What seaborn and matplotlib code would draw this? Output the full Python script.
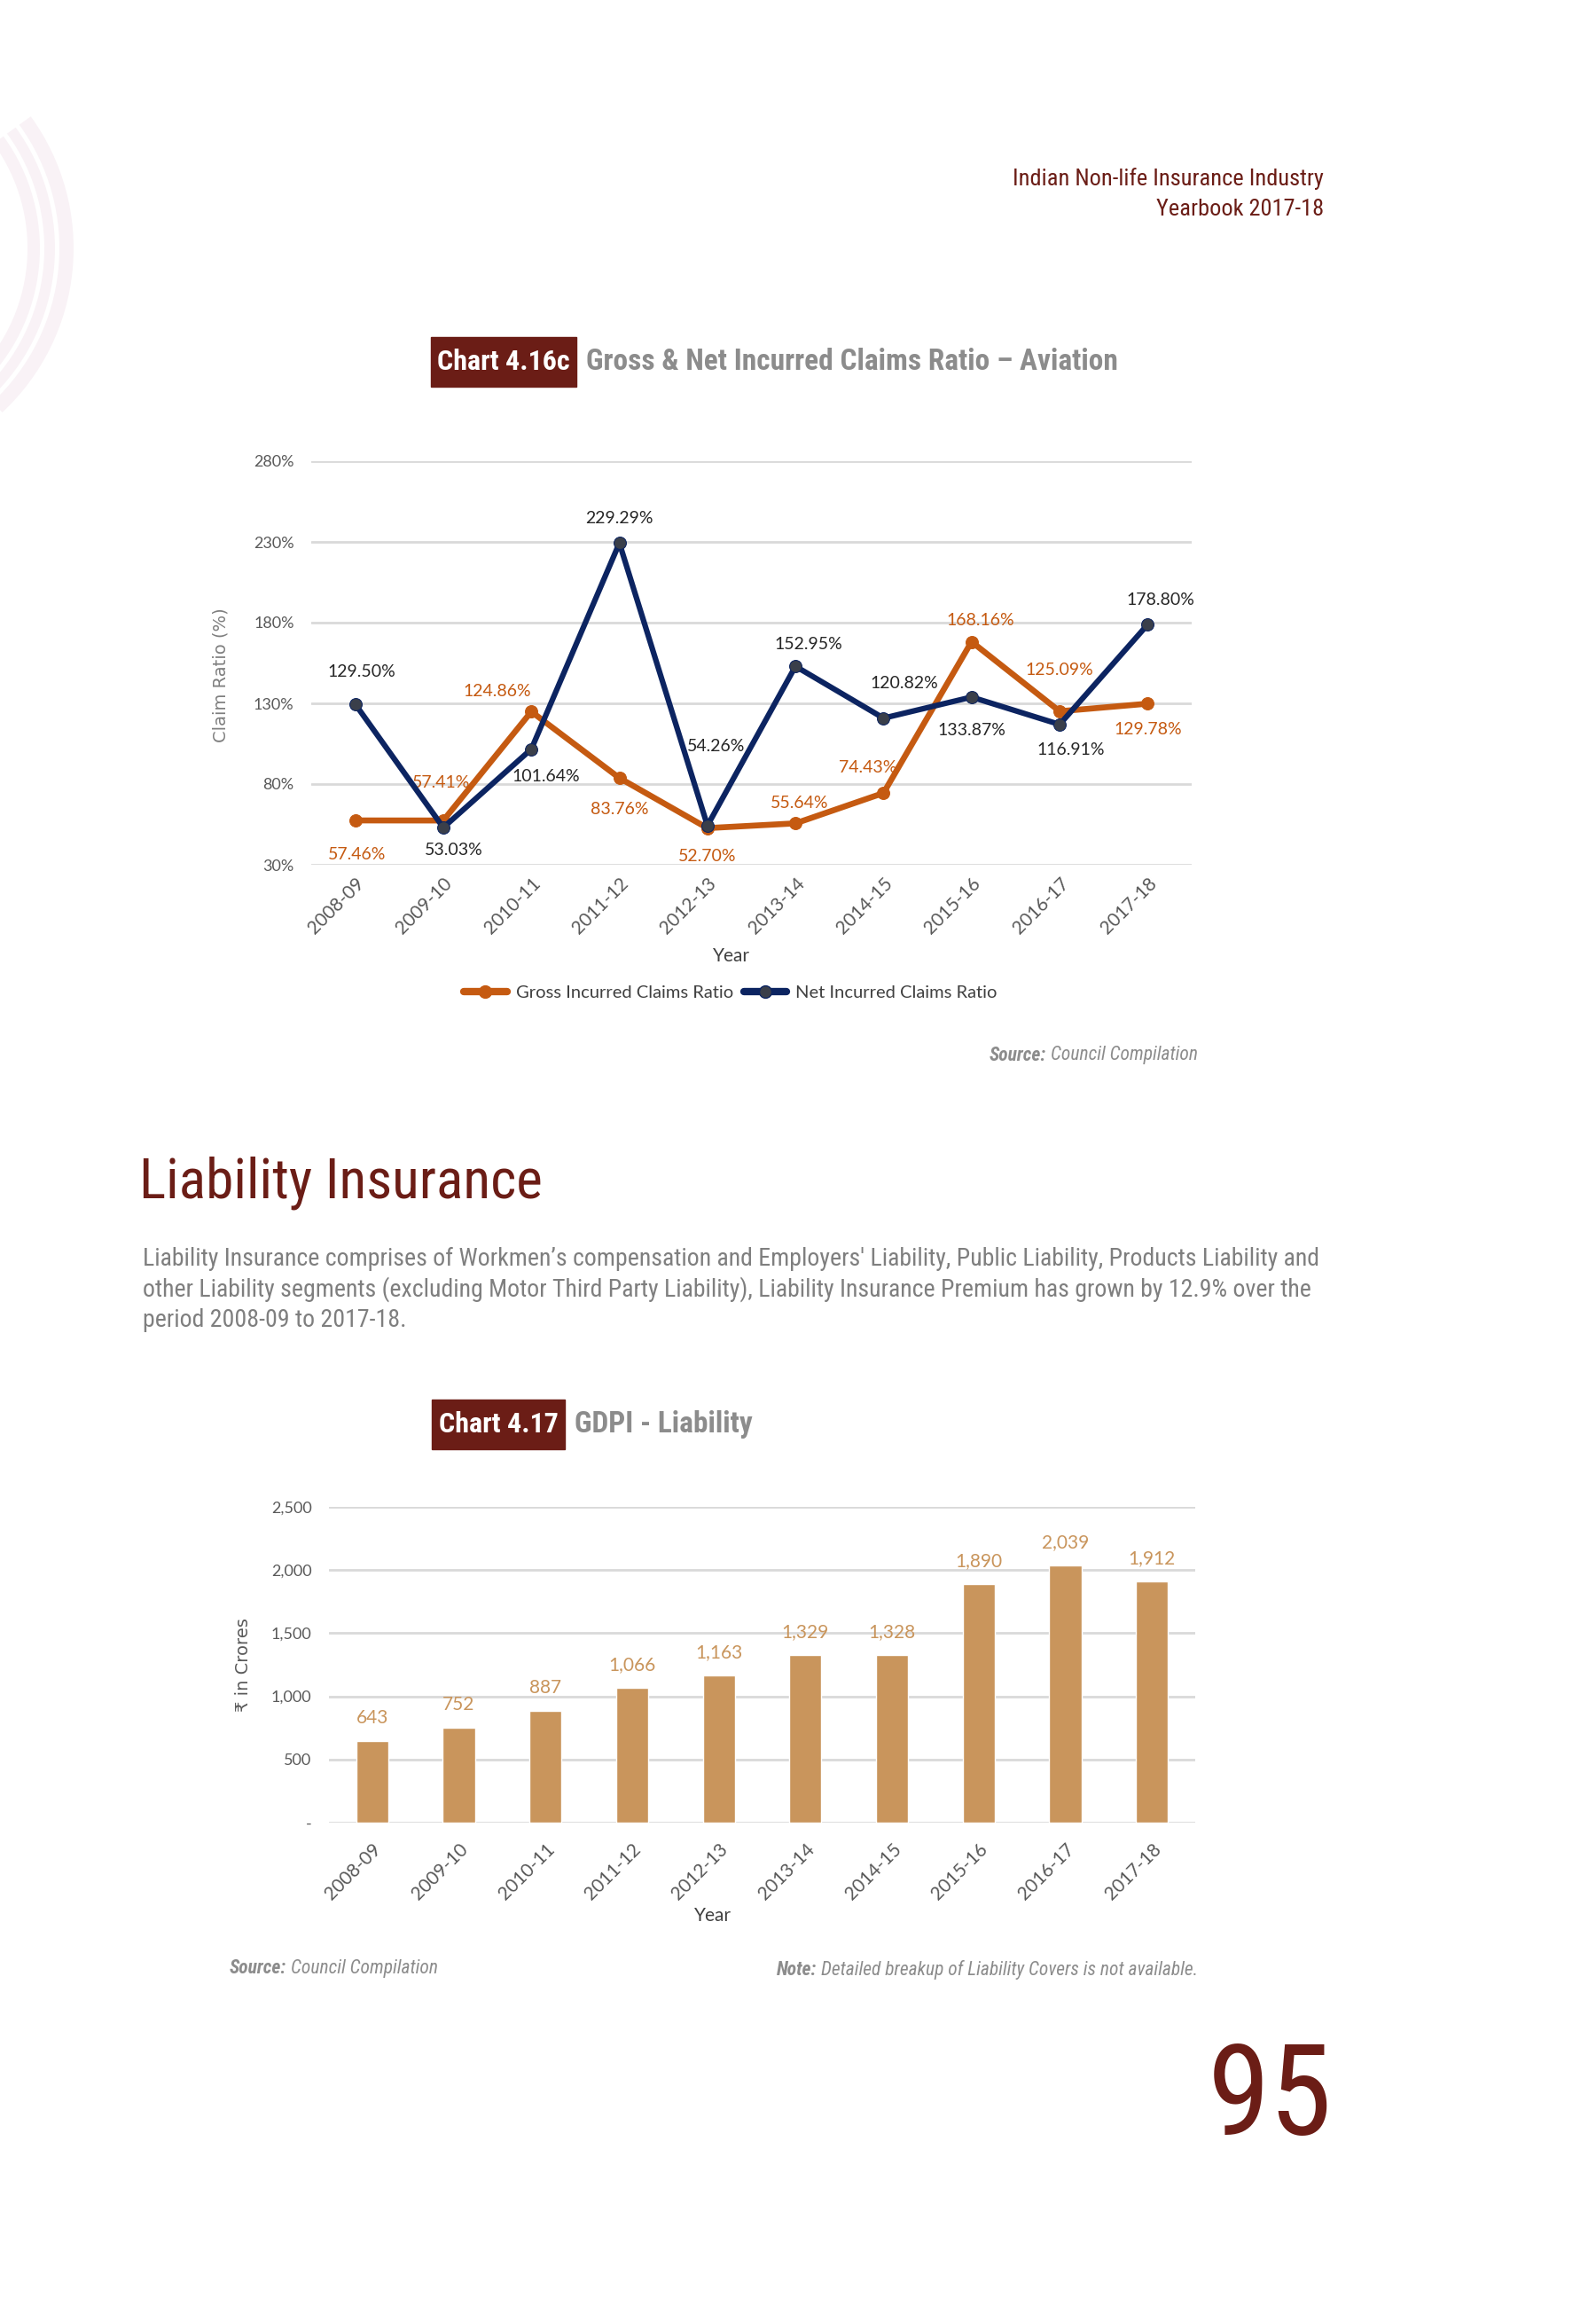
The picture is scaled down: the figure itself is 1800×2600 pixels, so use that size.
import numpy as np
import pandas as pd
import seaborn as sns
import matplotlib.pyplot as plt
from matplotlib import font_manager
from matplotlib.patches import Rectangle, Arc
from matplotlib.ticker import FuncFormatter
from matplotlib.lines import Line2D

# data
years = ['2008-09', '2009-10', '2010-11', '2011-12', '2012-13',
         '2013-14', '2014-15', '2015-16', '2016-17', '2017-18']
gross_ratio = [57.46, 57.41, 124.86, 83.76, 52.70, 55.64, 74.43, 168.16, 125.09, 129.78]
net_ratio = [129.50, 53.03, 101.64, 229.29, 54.26, 152.95, 120.82, 133.87, 116.91, 178.80]
gdpi_liability = [643, 752, 887, 1066, 1163, 1329, 1328, 1890, 2039, 1912]

# label offsets (pixels, +y is down) for the line chart
gross_off = [(2, 38), (-2, -43), (-38, -23), (0, 35), (0, 32),
             (5, -23), (-18, -29), (10, -24), (0, -46), (0, 29)]
net_off = [(7, -36), (12, 25), (17, 31), (0, -28), (10, -89),
           (15, -25), (23, -39), (0, 38), (13, 29), (15, -28)]

sns.set_theme(style='white')

names = {f.name for f in font_manager.fontManager.ttflist}
cond = next((n for n in ['Roboto Condensed', 'Liberation Sans Narrow',
                         'DejaVu Sans Condensed'] if n in names), 'Liberation Sans')
body = 'Lato' if 'Lato' in names else 'Open Sans'
plt.rcParams['font.family'] = [body, 'DejaVu Sans']

RED = '#6b1d16'
ORANGE = '#c55a11'
NAVY = '#0c2461'
BAR = '#c9955c'
GRID = '#d9d9d9'
TICK = '#595959'
NOTE = '#8c8c8c'

W, H = 1800, 2600
fig = plt.figure(figsize=(18, 26), dpi=100)
renderer = fig.canvas.get_renderer()


def fx(px):
    return px / W


def fy(py):
    return 1 - py / H


def note(x, y, bold, rest, align='left', size=15.5):
    # bold italic lead-in followed by italic text
    if align == 'left':
        t = fig.text(fx(x), fy(y), bold, ha='left', va='center', fontsize=size, style='italic',
                     fontweight='bold', color=NOTE, family=cond)
        x1 = t.get_window_extent(renderer).x1
        fig.text(fx(x1 + 5), fy(y), rest, ha='left', va='center', fontsize=size,
                 style='italic', color=NOTE, family=cond)
    else:
        t = fig.text(fx(x), fy(y), rest, ha='right', va='center', fontsize=size,
                     style='italic', color=NOTE, family=cond)
        x0 = t.get_window_extent(renderer).x0
        fig.text(fx(x0 - 5), fy(y), bold, ha='right', va='center', fontsize=size,
                 style='italic', fontweight='bold', color=NOTE, family=cond)


# decorative arcs at the top-left
for r, lw in [(2.45, 11.5), (2.26, 8.6), (2.08, 10)]:
    fig.add_artist(Arc((-1.7, 23.2), 2 * r, 2 * r, theta1=-47, theta2=36,
                       transform=fig.dpi_scale_trans, color='#f9f2f6', lw=lw))

# header
fig.text(fx(1493), fy(202), 'Indian Non-life Insurance Industry', ha='right', va='center',
         fontsize=19, color=RED, family=cond)
fig.text(fx(1493), fy(236), 'Yearbook 2017-18', ha='right', va='center',
         fontsize=19, color=RED, family=cond)


def chart_title(x0, x1, yc, tag, title):
    fig.add_artist(Rectangle((fx(x0), fy(yc + 28)), fx(x1 - x0), 56 / H,
                             transform=fig.transFigure, color=RED, zorder=1))
    fig.text(fx((x0 + x1) / 2), fy(yc), tag, ha='center', va='center', color='white',
             fontsize=23, fontweight='bold', family=cond, zorder=2)
    fig.text(fx(x1 + 11), fy(yc), title, ha='left', va='center', color=NOTE,
             fontsize=24, fontweight='bold', family=cond)


chart_title(486, 650, 408, 'Chart 4.16c', 'Gross & Net Incurred Claims Ratio \u2013 Aviation')

# chart 1: line chart
ax1 = fig.add_axes([fx(351), fy(975), fx(1344 - 351), (975 - 520) / H])
df1 = pd.DataFrame({'Year': years, 'Gross': gross_ratio, 'Net': net_ratio})
sns.lineplot(data=df1, x='Year', y='Gross', ax=ax1, color=ORANGE, lw=4.8, marker='o',
             markersize=10, markerfacecolor=ORANGE, markeredgecolor=ORANGE, sort=False,
             label='Gross Incurred Claims Ratio', zorder=3)
sns.lineplot(data=df1, x='Year', y='Net', ax=ax1, color=NAVY, lw=4.5, marker='o',
             markersize=10, markerfacecolor='#3a3f4a', markeredgecolor=NAVY, sort=False,
             label='Net Incurred Claims Ratio', zorder=4)
ax1.set_xlim(-0.5, 9.5)
ax1.set_ylim(30, 280)
ax1.set_yticks(np.arange(30, 281, 50))
ax1.yaxis.set_major_formatter(FuncFormatter(lambda v, p: f'{v:.0f}%'))
for i, v in enumerate(gross_ratio):
    dx, dy = gross_off[i]
    ax1.annotate(f'{v:.2f}%', (i, v), xytext=(dx, -dy), textcoords='offset pixels',
                 ha='center', va='center', fontsize=14, color=ORANGE)
for i, v in enumerate(net_ratio):
    dx, dy = net_off[i]
    ax1.annotate(f'{v:.2f}%', (i, v), xytext=(dx, -dy), textcoords='offset pixels',
                 ha='center', va='center', fontsize=14, color='#262626')
ax1.legend_.remove()
handles = [Line2D([], [], color=ORANGE, lw=6, marker='o', markersize=10,
                  markerfacecolor=ORANGE, markeredgecolor=ORANGE),
           Line2D([], [], color=NAVY, lw=6, marker='o', markersize=10,
                  markerfacecolor='#3a3f4a', markeredgecolor=NAVY)]
fig.legend(handles, ['Gross Incurred Claims Ratio', 'Net Incurred Claims Ratio'],
           loc='center', bbox_to_anchor=(fx(824), fy(1119)), ncol=2, frameon=False,
           fontsize=14.5, labelcolor='#404040', handlelength=2.4, handletextpad=0.5,
           columnspacing=0.6)
ax1.set_ylabel('Claim Ratio (%)', fontsize=14, color='#7f7f7f', family='DejaVu Sans')
ax1.yaxis.set_label_coords(-0.093, 0.47)
ax1.set_xlabel('Year', fontsize=15, color='#404040')
ax1.xaxis.set_label_coords(0.477, -0.205)

# chart 2: bar chart
fig.text(fx(157), fy(1334), 'Liability Insurance', ha='left', va='center',
         fontsize=45.5, color=RED, family=cond)
para = ["Liability Insurance comprises of Workmen\u2019s compensation and Employers' Liability, "
        "Public Liability, Products Liability and",
        "other Liability segments (excluding Motor Third Party Liability), Liability Insurance "
        "Premium has grown by 12.9% over the",
        "period 2008-09 to 2017-18."]
for k, line in enumerate(para):
    fig.text(fx(161), fy(1419 + 35 * k), line, ha='left', va='center',
             fontsize=20.1, color='#7f7f7f', family=cond)

chart_title(487, 637, 1606, 'Chart 4.17', 'GDPI - Liability')

ax2 = fig.add_axes([fx(371), fy(2055), fx(1348 - 371), (2055 - 1699) / H])
df2 = pd.DataFrame({'Year': years, 'GDPI': gdpi_liability})
sns.barplot(data=df2, x='Year', y='GDPI', ax=ax2, color=BAR, saturation=1,
            width=0.37, zorder=3)
ax2.set_xlim(-0.5, 9.5)
ax2.set_ylim(0, 2500)
ax2.set_yticks(np.arange(0, 2501, 500))
ax2.yaxis.set_major_formatter(FuncFormatter(lambda v, p: '-' if v == 0 else f'{v:,.0f}'))
for i, v in enumerate(gdpi_liability):
    ax2.annotate(f'{v:,}', (i, v), xytext=(0, 26), textcoords='offset pixels',
                 ha='center', va='center', fontsize=15, color=BAR)
ax2.set_ylabel('\u20b9 in Crores', fontsize=14, color='#595959',
               family=['DejaVu Sans', 'Noto Sans'], labelpad=16)
ax2.set_xlabel('Year', fontsize=15, color='#404040')
ax2.xaxis.set_label_coords(0.443, -0.266)

for ax, pad in ((ax1, 8), (ax2, 14)):
    ax.grid(axis='y', color=GRID, lw=2)
    ax.set_axisbelow(True)
    for s in ax.spines.values():
        s.set_visible(False)
    ax.tick_params(axis='y', length=0, labelsize=13, labelcolor=TICK, pad=14)
    ax.tick_params(axis='x', length=0, labelsize=15, labelcolor=TICK, pad=pad)
    for t in ax.get_xticklabels():
        t.set_rotation(45)
        t.set_ha('right')
        t.set_rotation_mode('anchor')

# sources, notes and page number
note(1351, 1190, 'Source:', 'Council Compilation', align='right')
note(259, 2219, 'Source:', 'Council Compilation', align='left')
note(1351, 2221, 'Note:', 'Detailed breakup of Liability Covers is not available.',
     align='right')

fig.text(fx(1503), fy(2407), '95', ha='right', va='baseline', fontsize=103,
         color=RED, family=cond)

fig.savefig('out.png', dpi=100, facecolor='white')
